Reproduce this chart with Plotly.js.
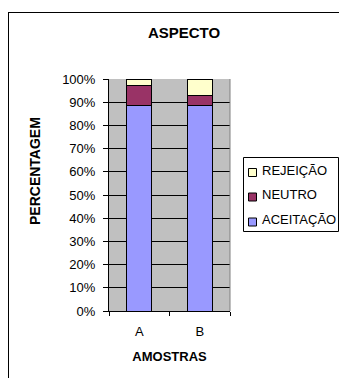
<!DOCTYPE html>
<html>
<head>
<meta charset="utf-8">
<script src="https://cdn.plot.ly/plotly-3.0.1.min.js"></script>
<style>
html,body{margin:0;padding:0;background:#fff;overflow:hidden;width:339px;height:378px;}
#chart{width:339px;height:378px;position:absolute;left:0;top:0;}
#frame{position:absolute;left:8px;top:12px;width:400px;height:400px;border:1px solid #000;pointer-events:none;}
</style>
</head>
<body>
<div id="chart"></div>
<div id="frame"></div>
<script>
const categories = ["A", "B"];
const seriesNames = ["ACEITAÇÃO", "NEUTRO", "REJEIÇÃO"];
const aceitacao = [88.6, 88.6];
const neutro = [8.8, 4.5];
const rejeicao = [2.6, 6.9];
const yTickVals = [0,10,20,30,40,50,60,70,80,90,100];
const yTickText = ["0%","10%","20%","30%","40%","50%","60%","70%","80%","90%","100%"];

const colors = ["#9999FF", "#993366", "#FFFFCC"];
const values = [aceitacao, neutro, rejeicao];

const W = 339, H = 378;
const M = {l: 109, r: 109, t: 79, b: 67};
const PW = W - M.l - M.r, PH = H - M.t - M.b;
const px2x = p => (p - M.l) / PW;
const px2y = p => (H - M.b - p) / PH;

const traces = values.map((v, i) => ({
  type: "bar",
  name: seriesNames[i],
  x: categories,
  y: v,
  marker: {color: colors[i], line: {color: "#000", width: 1}},
  hoverinfo: "skip",
  showlegend: false
}));

const font = "Liberation Sans, Arial, sans-serif";

// custom legend (top to bottom: REJEIÇÃO, NEUTRO, ACEITAÇÃO)
const legendRowsY = [170, 194.5, 219.5];
const legendOrder = [2, 1, 0];
const shapes = [
  {type: "line", xref: "paper", yref: "paper", x0: 1, x1: 1, y0: 0, y1: 1, line: {color: "#808080", width: 1}},
  {type: "rect", xref: "paper", yref: "paper", x0: px2x(243.5), x1: px2x(338.5), y0: px2y(157.5), y1: px2y(231.5),
   line: {color: "#000", width: 1}, fillcolor: "#fff", layer: "above"}
];
const annotations = [
  {text: "<b>PERCENTAGEM</b>", xref: "paper", yref: "paper", x: px2x(35), y: px2y(171), textangle: -90,
   showarrow: false, xanchor: "center", yanchor: "middle", font: {family: font, size: 14, color: "#000"}}
];
legendOrder.forEach((si, row) => {
  const cy = legendRowsY[row];
  shapes.push({type: "rect", xref: "paper", yref: "paper", x0: px2x(248.5), x1: px2x(256.5),
    y0: px2y(cy - 1.5), y1: px2y(cy + 6.5), line: {color: "#000", width: 1}, fillcolor: colors[si], layer: "above"});
  annotations.push({text: seriesNames[si], xref: "paper", yref: "paper", x: px2x(260), y: px2y(cy),
    xanchor: "left", yanchor: "middle", showarrow: false, font: {family: font, size: 13, color: "#000"}});
});

const layout = {
  width: W, height: H,
  margin: {l: M.l, r: M.r, t: M.t, b: M.b, pad: 0, autoexpand: false},
  paper_bgcolor: "#fff",
  plot_bgcolor: "#C0C0C0",
  barmode: "stack",
  bargap: 0.587,
  font: {family: font, size: 13, color: "#000"},
  title: {text: "<b>ASPECTO</b>", font: {family: font, size: 15, color: "#000"},
          x: 184/339, xref: "container", xanchor: "center", y: 1 - 33/378, yref: "container", yanchor: "middle"},
  xaxis: {
    type: "category",
    showgrid: false, showline: true, linecolor: "#000", linewidth: 1,
    ticks: "outside", ticklen: 4, tickcolor: "#000", tickson: "boundaries",
    tickfont: {family: font, size: 13},
    ticklabelstandoff: 8,
    title: {text: "<b>AMOSTRAS</b>", font: {family: font, size: 13}, standoff: 14},
    fixedrange: true
  },
  yaxis: {
    range: [0, 100],
    tickvals: yTickVals, ticktext: yTickText,
    showgrid: true, gridcolor: "#000", gridwidth: 1,
    showline: true, linecolor: "#000", linewidth: 1,
    ticks: "outside", ticklen: 5, tickcolor: "#000",
    tickfont: {family: font, size: 13},
    ticklabelstandoff: 5,
    zeroline: false,
    fixedrange: true
  },
  shapes: shapes,
  annotations: annotations,
  showlegend: false
};

Plotly.newPlot("chart", traces, layout, {displayModeBar: false, staticPlot: true});
</script>
</body>
</html>
